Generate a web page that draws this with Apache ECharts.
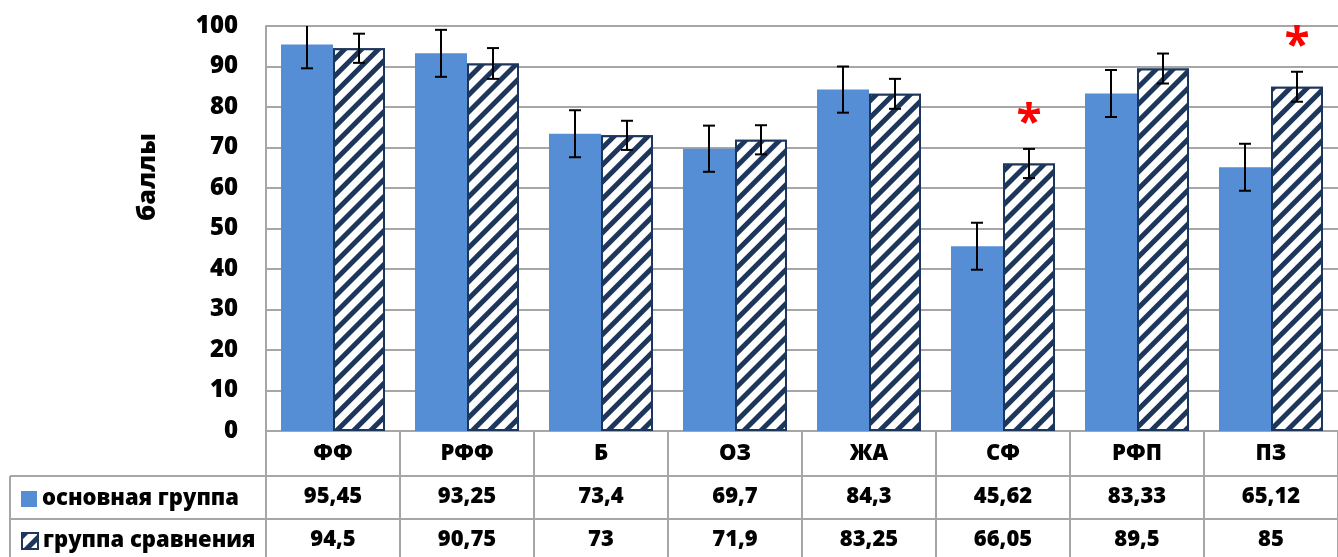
<!DOCTYPE html>
<html>
<head>
<meta charset="utf-8">
<script src="https://cdn.jsdelivr.net/npm/echarts@6/dist/echarts.min.js"></script>
<style>
  html, body { margin: 0; padding: 0; background: #fff; }
  #chart { width: 1338px; height: 557px; }
</style>
</head>
<body>
<div id="chart"></div>
<script>
// Scores by indicator for the two groups (mean ± error)
const categories = ['ФФ', 'РФФ', 'Б', 'ОЗ', 'ЖА', 'СФ', 'РФП', 'ПЗ'];
const seriesNames = ['основная группа', 'группа сравнения'];
const mainGroup = [95.45, 93.25, 73.4, 69.7, 84.3, 45.62, 83.33, 65.12];
const compGroup = [94.5, 90.75, 73, 71.9, 83.25, 66.05, 89.5, 85];
const mainErr = [5.9, 5.8, 5.8, 5.7, 5.7, 5.8, 5.8, 5.8];
const compErr = [3.6, 3.8, 3.6, 3.6, 3.7, 3.6, 3.7, 3.7];
// Significant difference markers, drawn over the comparison group bars
const significant = [false, false, false, false, false, true, false, true];
const yMin = 0, yMax = 100, yStep = 10;

const FONT = "'Open Sans', 'Noto Sans', sans-serif";
const WEIGHT = 800;
const BLUE = '#558ed5';
const NAVY = '#1c365c';
const GRID_GRAY = '#a6a6a6';
const CAT_GAP = 0.224;

const fmt = v => String(v).replace('.', ',');

const chart = echarts.init(document.getElementById('chart'), null, { renderer: 'canvas' });

// Error bar drawn at the centre of the bar of the given series slot (0 or 1)
function errorBarRenderer(slot) {
  return function (params, api) {
    const idx = api.value(0);
    const val = api.value(1);
    const err = api.value(2);
    const band = api.size([1, 0])[0];
    const barW = band * (1 - CAT_GAP) / 2;
    const dx = slot === 0 ? -barW / 2 : barW / 2;
    const hiVal = Math.min(val + err, yMax);
    const lo = api.coord([idx, val - err]);
    const hi = api.coord([idx, hiVal]);
    const x = lo[0] + dx;
    const cap = 6;
    const style = { stroke: '#000', lineWidth: 2 };
    const children = [
      { type: 'line', shape: { x1: x, y1: hi[1], x2: x, y2: lo[1] }, style },
      { type: 'line', shape: { x1: x - cap, y1: lo[1], x2: x + cap, y2: lo[1] }, style }
    ];
    if (val + err <= yMax) {
      children.push({ type: 'line', shape: { x1: x - cap, y1: hi[1], x2: x + cap, y2: hi[1] }, style });
    }
    return { type: 'group', children };
  };
}

function starRenderer(params, api) {
  const idx = api.value(0);
  const top = api.value(1);
  const band = api.size([1, 0])[0];
  const barW = band * (1 - CAT_GAP) / 2;
  const p = api.coord([idx, top]);
  return {
    type: 'text',
    style: {
      text: '*', x: p[0] + barW / 2, y: p[1] - 24,
      fill: '#ff0000', font: 'bold 46px ' + FONT,
      align: 'center', verticalAlign: 'middle'
    }
  };
}

const tableAxis = (values, offset, margin) => ({
  type: 'category',
  data: categories,
  position: 'bottom',
  offset: offset,
  axisLine: { show: true, lineStyle: { color: GRID_GRAY, width: 2 } },
  axisTick: { show: false },
  axisLabel: {
    interval: 0, margin: margin,
    formatter: (v, i) => fmt(values[i]),
    fontFamily: FONT, fontWeight: WEIGHT, fontSize: 22, color: '#000'
  }
});

const legendItem = (name, top) => ({
  data: [{ name: name, icon: 'rect' }],
  orient: 'vertical',
  left: 16, top: top,
  itemWidth: 16, itemHeight: 16,
  selectedMode: false,
  textStyle: { fontFamily: FONT, fontWeight: WEIGHT, fontSize: 22, color: '#000' }
});

const option = {
  animation: false,
  grid: { left: 266, right: -11, top: 26, bottom: 126, containLabel: false },
  legend: [legendItem(seriesNames[0], 483), legendItem(seriesNames[1], 525)],
  xAxis: [
    {
      type: 'category',
      data: categories,
      axisLine: { show: true, lineStyle: { color: GRID_GRAY, width: 2 } },
      axisTick: { show: true, interval: 0, length: 126, lineStyle: { color: GRID_GRAY, width: 2 } },
      axisLabel: { interval: 0, margin: 12, fontFamily: FONT, fontWeight: WEIGHT, fontSize: 22, color: '#000' }
    },
    tableAxis(mainGroup, 45, 10),
    tableAxis(compGroup, 88, 10)
  ],
  yAxis: {
    type: 'value',
    min: yMin, max: yMax, interval: yStep,
    axisLine: { show: true, lineStyle: { color: GRID_GRAY, width: 2 } },
    axisTick: { show: false },
    splitLine: { lineStyle: { color: GRID_GRAY, width: 2 } },
    axisLabel: { margin: 28, fontFamily: FONT, fontWeight: WEIGHT, fontSize: 24, color: '#000' }
  },
  graphic: [
    {
      type: 'text', x: 148, y: 177, rotation: Math.PI / 2,
      style: { text: 'баллы', font: WEIGHT + ' 25px ' + FONT, fill: '#000', align: 'center', verticalAlign: 'middle' }
    },
    { type: 'line', shape: { x1: 10, y1: 476, x2: 266, y2: 476 }, style: { stroke: GRID_GRAY, lineWidth: 2 } },
    { type: 'line', shape: { x1: 10, y1: 519, x2: 266, y2: 519 }, style: { stroke: GRID_GRAY, lineWidth: 2 } },
    { type: 'line', shape: { x1: 10, y1: 476, x2: 10, y2: 557 }, style: { stroke: GRID_GRAY, lineWidth: 2 } }
  ],
  series: [
    {
      name: seriesNames[0], type: 'bar', data: mainGroup,
      barGap: '0%', barCategoryGap: (CAT_GAP * 100) + '%',
      itemStyle: { color: BLUE, borderColor: BLUE, borderWidth: 0 }
    },
    {
      name: seriesNames[1], type: 'bar', data: compGroup,
      barGap: '0%', barCategoryGap: (CAT_GAP * 100) + '%',
      itemStyle: {
        color: '#ffffff', borderColor: NAVY, borderWidth: 2,
        decal: {
          symbol: 'rect', symbolSize: 1,
          color: NAVY, backgroundColor: '#ffffff',
          dashArrayX: [1, 0], dashArrayY: [4.5, 7],
          rotation: -Math.PI / 4
        }
      }
    },
    {
      type: 'custom', name: 'err-main', renderItem: errorBarRenderer(0), z: 10,
      data: mainGroup.map((v, i) => [i, v, mainErr[i]]), silent: true
    },
    {
      type: 'custom', name: 'err-comp', renderItem: errorBarRenderer(1), z: 10,
      data: compGroup.map((v, i) => [i, v, compErr[i]]), silent: true
    },
    {
      type: 'custom', name: 'stars', renderItem: starRenderer, z: 11,
      data: compGroup.map((v, i) => [i, v + compErr[i]]).filter((d, i) => significant[i]), silent: true
    }
  ]
};

chart.setOption(option);
</script>
</body>
</html>
